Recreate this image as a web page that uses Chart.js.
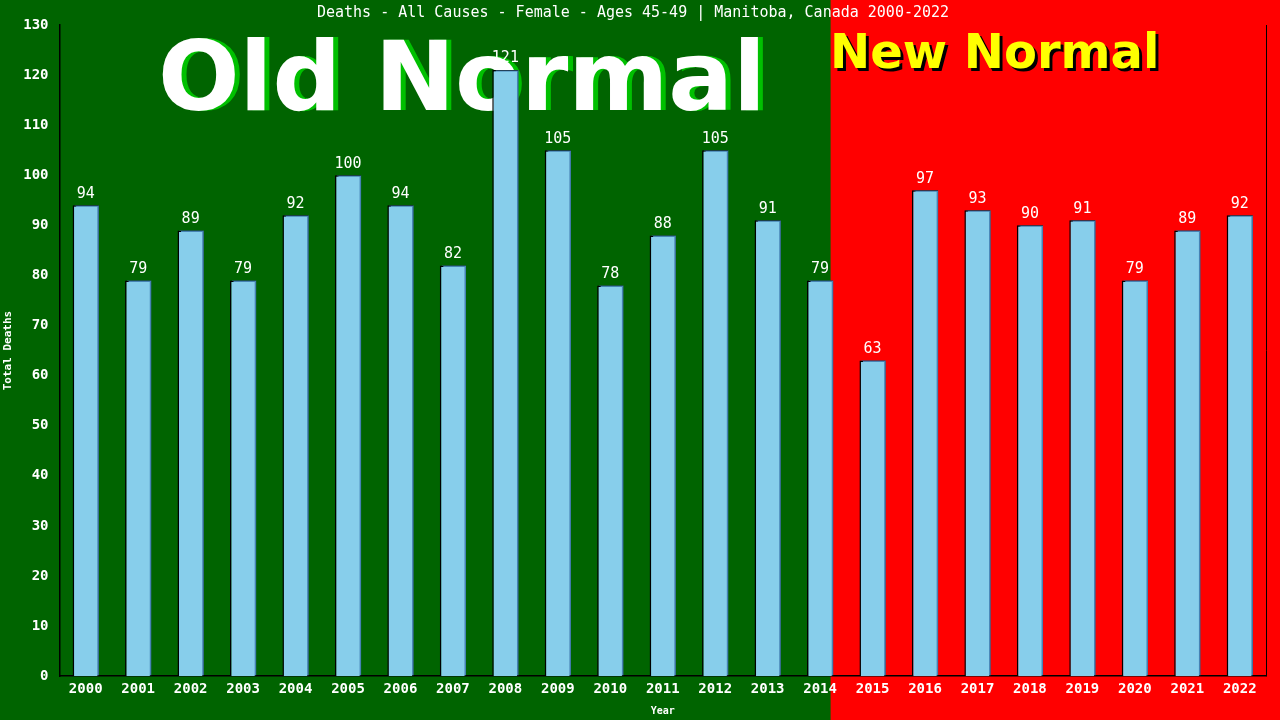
<!DOCTYPE html>
<html lang="en">
<head>
    <meta charset="UTF-8">
    <title>Deaths - All Causes - Female - Ages 45-49 | Manitoba, Canada 2000-2022</title>
    <style>
        html, body { margin: 0; padding: 0; background: #006400; }
        #wrap { width: 1280px; height: 720px; position: relative; }
    </style>
</head>
<body>
    <div id="wrap">
        <canvas id="deathsChart" width="1280" height="720"></canvas>
    </div>
    <script src="https://cdn.jsdelivr.net/npm/chart.js"></script>
    <script>
        // Data
        const years = ['2000', '2001', '2002', '2003', '2004', '2005', '2006', '2007', '2008', '2009', '2010', '2011',
                       '2012', '2013', '2014', '2015', '2016', '2017', '2018', '2019', '2020', '2021', '2022'];
        const deaths = [94, 79, 89, 79, 92, 100, 94, 82, 121, 105, 78, 88, 105, 91, 79, 63, 97, 93, 90, 91, 79, 89, 92];
        const lastOldYear = '2014';

        const mono = "'DejaVu Sans Mono', 'Liberation Mono', monospace";

        // Green / red backgrounds and the big "Old Normal" / "New Normal" labels
        const backgroundPlugin = {
            id: 'backgroundPlugin',
            beforeDraw(chart) {
                const ctx = chart.ctx;
                const x = chart.scales.x;
                const i = years.indexOf(lastOldYear);
                const step = x.getPixelForTick(1) - x.getPixelForTick(0);
                const split = x.getPixelForTick(i) + step * 0.2;
                ctx.save();
                ctx.fillStyle = '#006400';
                ctx.fillRect(0, 0, split, chart.height);
                ctx.fillStyle = '#FF0000';
                ctx.fillRect(split, 0, chart.width - split, chart.height);

                ctx.textBaseline = 'alphabetic';
                ctx.font = "bold 96px 'DejaVu Sans', Verdana, sans-serif";
                ctx.textAlign = 'center';
                ctx.fillStyle = '#00C000';
                ctx.fillText('Old Normal', 467, 110);
                ctx.fillStyle = '#FFFFFF';
                ctx.fillText('Old Normal', 462, 110);

                ctx.font = "bold 48px 'DejaVu Sans', Verdana, sans-serif";
                ctx.textAlign = 'left';
                ctx.fillStyle = '#000000';
                ctx.fillText('New Normal', 833, 71);
                ctx.fillStyle = '#FFFF00';
                ctx.fillText('New Normal', 830, 68);
                ctx.restore();
            },
            beforeDatasetsDraw(chart) {
                const ctx = chart.ctx;
                ctx.save();
                ctx.shadowColor = '#4682B4';
                ctx.shadowOffsetX = 2;
                ctx.shadowOffsetY = -1;
                ctx.shadowBlur = 0;
            },
            afterDatasetsDraw(chart) {
                const ctx = chart.ctx;
                ctx.restore();
                // value labels above the bars
                const meta = chart.getDatasetMeta(0);
                ctx.save();
                ctx.font = '15px ' + mono;
                ctx.fillStyle = '#FFFFFF';
                ctx.textAlign = 'center';
                ctx.textBaseline = 'bottom';
                meta.data.forEach((bar, idx) => {
                    ctx.fillText(String(deaths[idx]), bar.x, bar.y - 4);
                });
                // right border line
                const area = chart.chartArea;
                ctx.strokeStyle = '#000000';
                ctx.lineWidth = 1;
                ctx.beginPath();
                ctx.moveTo(area.right + 0.5, area.top);
                ctx.lineTo(area.right + 0.5, area.bottom);
                ctx.stroke();
                ctx.restore();
            }
        };

        const ctx = document.getElementById('deathsChart').getContext('2d');
        const deathsChart = new Chart(ctx, {
            type: 'bar',
            data: {
                labels: years,
                datasets: [{
                    label: 'Total Deaths',
                    data: deaths,
                    backgroundColor: '#87CEEB',
                    borderColor: '#000000',
                    borderWidth: 1.5,
                    barPercentage: 0.5,
                    categoryPercentage: 1.0
                }]
            },
            options: {
                responsive: false,
                animation: false,
                layout: { padding: { left: 0, right: 14, top: 0, bottom: 0 } },
                plugins: {
                    legend: { display: false },
                    tooltip: { enabled: false },
                    title: {
                        display: true,
                        text: 'Deaths - All Causes - Female - Ages 45-49 | Manitoba, Canada 2000-2022',
                        color: '#FFFFFF',
                        font: { family: mono, size: 15, weight: 'normal' },
                        padding: { top: 4, bottom: 3 }
                    }
                },
                scales: {
                    x: {
                        grid: { display: false, drawTicks: false },
                        border: { color: '#000000', width: 1.5 },
                        ticks: { color: '#FFFFFF', font: { family: mono, size: 14, weight: 'bold' }, padding: 5 },
                        title: {
                            display: true, text: 'Year', color: '#FFFFFF',
                            font: { family: mono, size: 10, weight: 'bold' }, padding: { top: 2, bottom: 3 }
                        }
                    },
                    y: {
                        min: 0,
                        max: 130,
                        grid: { display: false, drawOnChartArea: false, drawTicks: true, tickLength: 6, color: '#000000' },
                        border: { color: '#000000', width: 1.5 },
                        ticks: { stepSize: 10, color: '#FFFFFF', font: { family: mono, size: 14, weight: 'bold' }, padding: 5 },
                        title: {
                            display: true, text: 'Total Deaths', color: '#FFFFFF',
                            font: { family: mono, size: 11, weight: 'bold' }, padding: { top: 2, bottom: 3 }
                        }
                    }
                }
            },
            plugins: [backgroundPlugin]
        });
    </script>
</body>
</html>
